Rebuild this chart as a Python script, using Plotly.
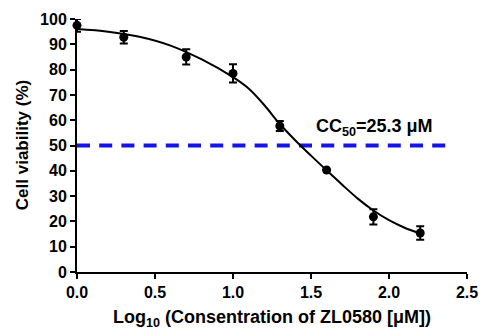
import plotly.graph_objects as go

# Measured data (log10 concentration, viability %, SD)
log_conc = [0.0, 0.3, 0.7, 1.0, 1.3, 1.6, 1.9, 2.2]
viability = [97.5, 92.8, 85.0, 78.5, 57.7, 40.3, 21.8, 15.4]
sd = [2.5, 2.5, 3.0, 3.6, 2.0, 0.0, 3.0, 2.7]

# Fitted curve
fit_x = [0.0, 0.2, 0.4, 0.6, 0.8, 1.0, 1.1, 1.2, 1.3, 1.4, 1.5, 1.6, 1.7, 1.8, 1.9, 2.0, 2.1, 2.2]
fit_y = [96.0, 95.0, 93.0, 89.5, 84.0, 77.0, 72.5, 66.0, 58.5, 52.0, 46.0, 40.2, 34.5, 29.0, 24.3, 20.5, 17.5, 15.2]

# CC50 reference line
ref_x = [0.0, 2.375]
ref_y = [50, 50]

x_ticks = [0.0, 0.5, 1.0, 1.5, 2.0, 2.5]
y_ticks = [0, 10, 20, 30, 40, 50, 60, 70, 80, 90, 100]

FONT = "Liberation Sans, Arial, sans-serif"

fig = go.Figure()
fig.add_trace(go.Scatter(
    x=ref_x, y=ref_y, mode="lines",
    line=dict(color="#1414e6", width=4, dash="13px,9.2px"),
    hoverinfo="skip", cliponaxis=False))
fig.add_trace(go.Scatter(
    x=fit_x, y=fit_y, mode="lines", line=dict(color="black", width=2, shape="spline"),
    hoverinfo="skip", cliponaxis=False))
fig.add_trace(go.Scatter(
    x=log_conc, y=viability, mode="markers",
    marker=dict(color="black", size=9),
    error_y=dict(type="data", array=sd, visible=True, color="black", thickness=2, width=4),
    cliponaxis=False))

fig.add_annotation(
    x=1.52, y=57, xref="x", yref="y", xanchor="left", yanchor="middle",
    text="CC<sub>50</sub>=25.3 μM", showarrow=False,
    font=dict(family=FONT, size=18, color="black", weight="bold"))

# Axis titles
fig.add_annotation(
    x=0.5, y=-0.182, xref="paper", yref="paper", xanchor="center", yanchor="middle",
    text="Log<sub>10</sub> (Consentration of ZL0580 [μM])", showarrow=False,
    font=dict(family=FONT, size=18, color="black", weight="bold"))
fig.add_annotation(
    x=-0.138, y=0.502, xref="paper", yref="paper", xanchor="center", yanchor="middle",
    text="Cell viability (%)", showarrow=False, textangle=-90,
    font=dict(family=FONT, size=17, color="black", weight="bold"))

axis_common = dict(
    showgrid=False, zeroline=False, showline=True, linecolor="black", linewidth=2,
    ticks="outside", ticklen=5, tickwidth=2, tickcolor="black", automargin=False,
    tickfont=dict(family=FONT, size=16, color="black", weight="bold"),
)

fig.update_layout(
    width=484, height=331,
    margin=dict(l=77, r=17, t=19, b=59),
    paper_bgcolor="white", plot_bgcolor="white",
    showlegend=False,
    xaxis=dict(range=[0, 2.5], tickvals=x_ticks, ticktext=[f"{v:.1f}" for v in x_ticks],
               **axis_common),
    yaxis=dict(range=[0, 100], tickvals=y_ticks, **axis_common),
)

fig.write_html("out.html")
